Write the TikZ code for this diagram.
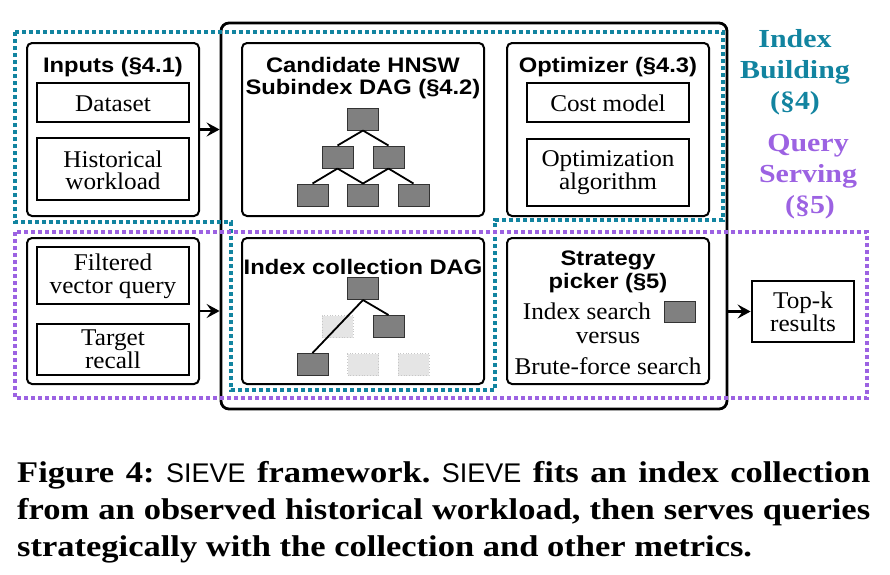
\documentclass[tikz,border=0pt]{standalone}
\usepackage{fontspec}
\setmainfont{Liberation Serif}[FakeStretch=1.05]
\newfontfamily\hdfont{Liberation Sans}[FakeStretch=1.13]
\newfontfamily\capfont{Liberation Serif}[FakeStretch=1.15]
\newfontfamily\sievefont{Liberation Sans}
\usetikzlibrary{arrows.meta}
\definecolor{ibteal}{RGB}{18,132,160}
\definecolor{qspurple}{RGB}{156,98,226}
\newcommand\sievename{{\sievefont\mdseries\fontsize{27}{30}\selectfont SIEVE}}
\frenchspacing
\begin{document}
\begin{tikzpicture}[x=1pt,y=-1pt,
 txt/.style={anchor=base, inner sep=0pt, font=\fontsize{24}{23}\selectfont},
 hd/.style={anchor=base, inner sep=0pt, font=\hdfont\bfseries\fontsize{21}{22}\selectfont},
 lab/.style={anchor=base, inner sep=0pt, font=\capfont\bfseries\fontsize{26}{31}\selectfont},
 captxt/.style={anchor=base west, inner sep=0pt, font=\capfont\bfseries\fontsize{30}{37}\selectfont},
 bigbox/.style={draw, line width=2.8pt, rounded corners=8pt, inner sep=0pt},
 ibox/.style={draw, line width=2pt, rounded corners=5pt, inner sep=0pt},
 sbox/.style={draw, line width=1.4pt, inner sep=0pt},
 sq/.style={draw=black!80, line width=1pt, fill=black!50, minimum width=31pt, minimum height=22pt, inner sep=0pt},
 ghost/.style={draw=black!22, dotted, line width=0.8pt, fill=black!10, minimum width=31pt, minimum height=22pt, inner sep=0pt},
 treeline/.style={line width=1.8pt},
 flow/.style={line width=2.5pt, -{Stealth[length=13pt,width=14pt,inset=5pt]}},
 region/.style={line width=4.3pt, dash pattern=on 4.2pt off 2.8pt},
]
\useasboundingbox (0,0) rectangle (890,574);

% main frame
\node[bigbox, minimum width=506pt, minimum height=386pt] (big) at (474,216) {};

% inner boxes
\node[ibox, minimum width=172pt, minimum height=173pt] (inpA) at (113,129.5) {};
\node[ibox, minimum width=242pt, minimum height=173pt] (cand) at (363,129.5) {};
\node[ibox, minimum width=202pt, minimum height=173pt] (opt) at (608,129.5) {};
\node[ibox, minimum width=172pt, minimum height=146pt] (inpB) at (113,311) {};
\node[ibox, minimum width=242pt, minimum height=146pt] (coll) at (363,311) {};
\node[ibox, minimum width=202pt, minimum height=146pt] (strat) at (608,311) {};
\node[draw, line width=2.8pt, inner sep=0pt, minimum width=102pt, minimum height=61pt] (topk) at (803,311.5) {};

% sub boxes
\node[sbox, minimum width=152pt, minimum height=39pt] (dset) at (113,102.5) {};
\node[sbox, minimum width=152pt, minimum height=62pt] (hist) at (113,169) {};
\node[sbox, minimum width=162pt, minimum height=39pt] (cost) at (608,102.5) {};
\node[sbox, minimum width=162pt, minimum height=67pt] (oalg) at (608,172.5) {};
\node[sbox, minimum width=152pt, minimum height=57pt] (filt) at (113,275.5) {};
\node[sbox, minimum width=152pt, minimum height=51pt] (targ) at (113,349.5) {};

% headers
\node[hd] (hInp) at (113,72) {Inputs (§4.1)};
\node[hd] (hCand1) at (363,72) {Candidate HNSW};
\node[hd] (hCand2) at (363,94) {Subindex DAG (§4.2)};
\node[hd] (hOpt) at (608,72) {Optimizer (§4.3)};
\node[hd] (hColl) at (363,274) {Index collection DAG};
\node[hd] (hStr1) at (608,265) {Strategy};
\node[hd] (hStr2) at (608,288) {picker (§5)};

% texts
\node[txt] (tDset) at (113,111) {Dataset};
\node[txt] (tHist1) at (113,167) {Historical};
\node[txt] (tHist2) at (113,189) {workload};
\node[txt] (tCost) at (608,111) {Cost model};
\node[txt] (tAlg1) at (608,166) {Optimization};
\node[txt] (tAlg2) at (608,189) {algorithm};
\node[txt] (tFilt1) at (113,270) {Filtered};
\node[txt] (tFilt2) at (113,293) {vector query};
\node[txt] (tTarg1) at (113,345) {Target};
\node[txt] (tTarg2) at (113,368) {recall};
\node[txt] (tIdx) at (587,319) {Index search};
\node[txt] (tVs) at (608,343) {versus};
\node[txt] (tBf) at (608,374) {Brute-force search};
\node[txt] (tTop1) at (803,308) {Top-k};
\node[txt] (tTop2) at (803,331) {results};
\node[sq, minimum height=21pt] (pick) at (679.5,311.5) {};

% candidate DAG
\node[sq] (t1) at (363,119) {};
\node[sq] (m1) at (337.5,157) {};
\node[sq] (m2) at (388.5,157) {};
\node[sq] (b1) at (312.5,195) {};
\node[sq] (b2) at (363,195) {};
\node[sq] (b3) at (413.5,195) {};
\draw[treeline] (t1.south) -- (m1.north);
\draw[treeline] (t1.south) -- (m2.north);
\draw[treeline] (m1.south) -- (b1.north);
\draw[treeline] (m1.south) -- (b2.north);
\draw[treeline] (m2.south) -- (b2.north);
\draw[treeline] (m2.south) -- (b3.north);

% collection DAG
\node[ghost] (cm1) at (337.5,326.5) {};
\node[ghost] (cb2) at (363,364.5) {};
\node[ghost] (cb3) at (413.5,364.5) {};
\node[sq] (c1) at (363,288.5) {};
\node[sq] (cm2) at (388.5,326.5) {};
\node[sq] (cb1) at (312.5,364.5) {};
\draw[treeline] (c1.south) -- (cm2.north);
\draw[treeline] (c1.south) -- (cb1.north);

% arrows
\draw[flow] (inpA.east) -- (inpA.east -| big.west);
\draw[flow] (inpB.east) -- (inpB.east -| big.west);
\draw[flow] (topk.west -| big.east) -- (topk.west);

% regions
\draw[region, ibteal] (15,32) -- (723,32) -- (723,220) -- (495,220) -- (495,390) -- (231,390) -- (231,222) -- (15,222) -- cycle;
\draw[region, qspurple] (15,232) rectangle (867,398);

% region labels
\node[lab, text=ibteal] (lIB1) at (795,47) {Index};
\node[lab, text=ibteal] (lIB2) at (795,78) {Building};
\node[lab, text=ibteal] (lIB3) at (795,109) {(§4)};
\node[lab, text=qspurple] (lQS1) at (808,151) {Query};
\node[lab, text=qspurple] (lQS2) at (808,182) {Serving};
\node[lab, text=qspurple] (lQS3) at (810,213) {(§5)};

% caption
\node[captxt] (cap1) at (17,482) {\makebox[853pt][s]{Figure 4: \sievename{} framework. \sievename{} fits an index collection}};
\node[captxt] (cap2) at (17,519) {\makebox[853pt][s]{from an observed historical workload, then serves queries}};
\node[captxt] (cap3) at (17,556) {strategically with the collection and other metrics.};
\end{tikzpicture}
\end{document}
